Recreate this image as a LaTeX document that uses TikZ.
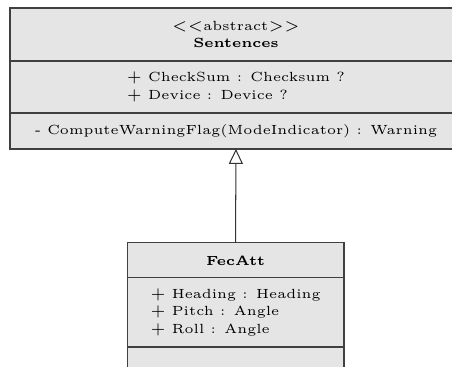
\documentclass[tikz,border=0pt]{standalone}
\usepackage{tikz}
\usetikzlibrary{arrows.meta,positioning}

\begin{document}
\begin{tikzpicture}[
  x=1pt, y=1pt,
  font=\fontsize{4.55pt}{6pt}\selectfont,
  umlpart/.style={draw=black!75, line width=0.4pt, outer sep=0pt, fill=gray!20, inner sep=0pt, align=center},
  inherit/.style={-{Triangle[open, length=5.1pt, width=4.8pt]}, line width=0.35pt, draw=black!80}
]
\path[use as bounding box, clip] (0,0) rectangle (155.04,-125.88);
% abstract parent class
\node[umlpart, anchor=north west, minimum width=155pt, minimum height=18.2pt] (sentname) at (3.43,-2.74) {$<<$abstract$>>$\\\textbf{Sentences}};
\node[umlpart, below=0pt of sentname, minimum width=155pt, minimum height=17.8pt, align=left] (sentattr) {$+$ CheckSum : Checksum ?\\$+$ Device : Device ?};
\node[umlpart, below=0pt of sentattr, minimum width=155pt, minimum height=12.35pt] (sentop) {- ComputeWarningFlag(ModeIndicator) : Warning};
% derived class
\node[umlpart, anchor=north west, minimum width=74.4pt, minimum height=12pt] (fecname) at (43.6,-83.3) {\textbf{FecAtt}};
\node[umlpart, below=0pt of fecname, minimum width=74.4pt, minimum height=23.7pt, align=left] (fecattr) {$+$ Heading : Heading\\$+$ Pitch : Angle\\$+$ Roll : Angle};
\node[umlpart, below=0pt of fecattr, minimum width=74.4pt, minimum height=12pt] (fecop) {};
\draw[inherit] (fecname.north) -- (sentop.south);
\end{tikzpicture}
\end{document}
